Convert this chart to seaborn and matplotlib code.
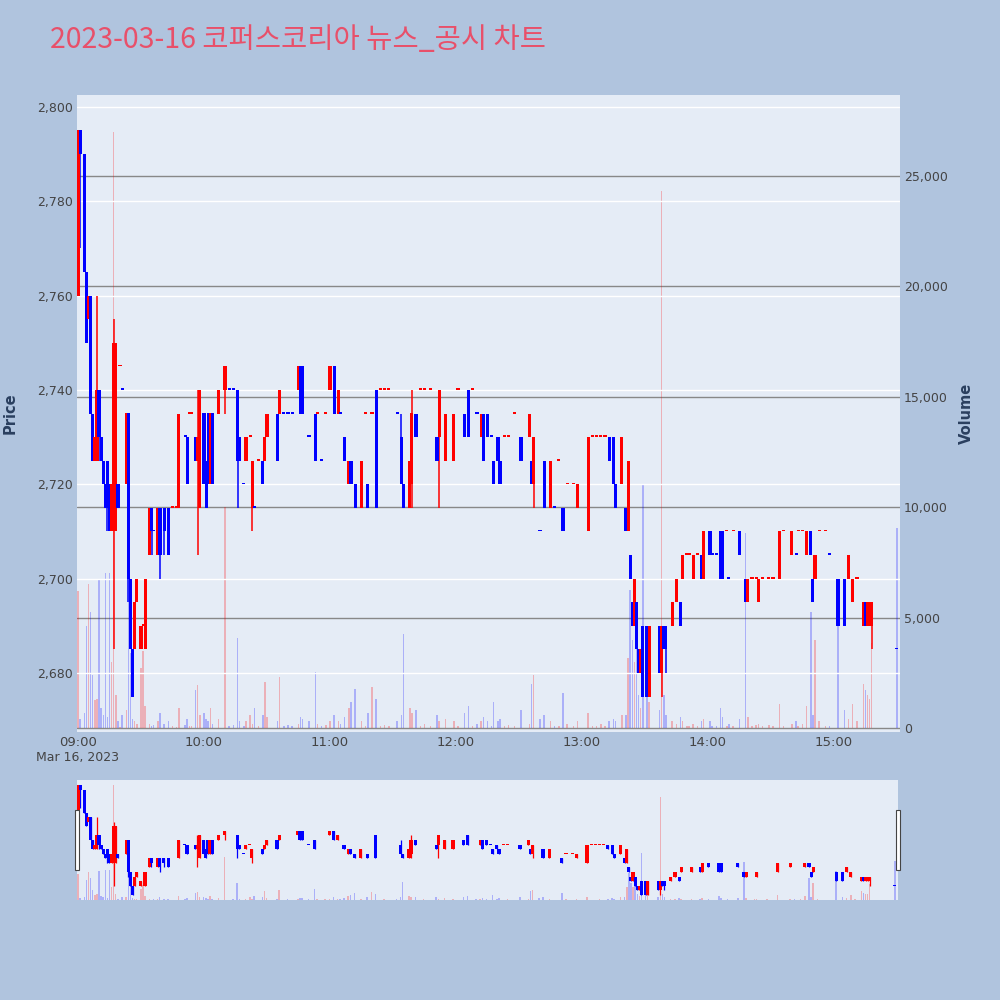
import matplotlib
matplotlib.use("Agg")
import matplotlib.pyplot as plt
import seaborn as sns
import pandas as pd
import numpy as np
from matplotlib.patches import Rectangle

# 1-minute candles, minutes counted from 09:00
minutes = [0, 1, 3, 4, 5, 6, 7, 8, 9, 10, 11, 12, 13, 14, 15, 16, 17, 18, 19, 20, 21, 23, 24, 25, 26, 27, 28, 30, 31, 32, 34, 35, 36, 38, 39, 41, 43, 45, 47, 48, 51, 52, 53, 54, 56, 57, 58,
           60, 61, 62, 63, 64, 67, 70, 72, 74, 76, 77, 79, 80, 82, 83, 84, 86, 88, 89, 90, 95, 96, 98, 100, 102, 105, 106, 107, 110, 113, 114, 116, 118,
           120, 122, 124, 125, 127, 129, 130, 132, 135, 137, 138, 140, 142, 144, 146, 148, 152, 154, 155, 158, 159, 161, 163, 165, 168, 171, 172, 175, 179,
           181, 184, 186, 188, 190, 192, 193, 195, 197, 198, 200, 201, 203, 205, 208, 211, 215, 216, 217, 220, 222, 225, 227, 229, 231, 233, 236, 238,
           243, 245, 247, 249, 251, 253, 255, 256, 259, 261, 262, 263, 264, 265, 266, 267, 268, 269, 271, 272, 277, 278, 279, 280, 283, 285, 287, 288, 290, 291, 293, 295, 297, 298,
           301, 302, 304, 306, 307, 309, 310, 312, 315, 318, 319, 321, 323, 324, 326, 329, 331, 334, 336, 340, 342, 343, 345, 347, 349, 350, 351, 353, 356, 358,
           362, 365, 367, 369, 371, 374, 375, 376, 377, 378, 390]

opens = [2760, 2795, 2790, 2765, 2755, 2760, 2735, 2725, 2725, 2740, 2730, 2725, 2720, 2725, 2720, 2710, 2710, 2710, 2720, 2745, 2740, 2720, 2735, 2700, 2685, 2685, 2695, 2685, 2690, 2685, 2705, 2715, 2710, 2705, 2715, 2715, 2715, 2715, 2715, 2715, 2730, 2730, 2735, 2735, 2730, 2725, 2715,
         2735, 2725, 2735, 2720, 2735, 2735, 2740, 2740, 2740, 2740, 2730, 2720, 2725, 2730, 2715, 2715, 2725, 2725, 2725, 2730, 2735, 2735, 2735, 2735, 2735, 2740, 2745, 2745, 2730, 2735, 2735, 2725, 2735,
         2740, 2745, 2735, 2735, 2730, 2720, 2725, 2720, 2715, 2735, 2720, 2735, 2740, 2740, 2740, 2740, 2735, 2730, 2720, 2715, 2720, 2735, 2740, 2740, 2740, 2730, 2730, 2725, 2725,
         2740, 2735, 2740, 2740, 2735, 2730, 2735, 2735, 2730, 2725, 2730, 2725, 2730, 2730, 2735, 2730, 2730, 2725, 2720, 2710, 2725, 2715, 2715, 2725, 2715, 2720, 2720, 2715,
         2710, 2730, 2730, 2730, 2730, 2730, 2730, 2720, 2720, 2715, 2710, 2705, 2695, 2690, 2695, 2685, 2680, 2690, 2690, 2675, 2690, 2680, 2690, 2690, 2690, 2695, 2695, 2700, 2705, 2705, 2700, 2705, 2705, 2700,
         2710, 2705, 2705, 2710, 2710, 2710, 2700, 2710, 2710, 2700, 2695, 2700, 2700, 2695, 2700, 2700, 2700, 2700, 2710, 2705, 2705, 2710, 2710, 2705, 2710, 2700, 2700, 2710, 2710, 2705,
         2700, 2700, 2700, 2695, 2700, 2690, 2695, 2690, 2690, 2690, 2685]

highs = [2795, 2795, 2790, 2765, 2760, 2760, 2735, 2730, 2760, 2740, 2730, 2725, 2720, 2725, 2720, 2720, 2755, 2750, 2720, 2745, 2740, 2735, 2735, 2700, 2685, 2695, 2700, 2690, 2690, 2700, 2715, 2715, 2710, 2715, 2715, 2715, 2715, 2715, 2715, 2735, 2730, 2730, 2735, 2735, 2730, 2740, 2740,
         2735, 2725, 2735, 2735, 2735, 2740, 2745, 2740, 2740, 2740, 2730, 2720, 2730, 2730, 2725, 2715, 2725, 2725, 2730, 2735, 2735, 2740, 2735, 2735, 2735, 2745, 2745, 2745, 2730, 2735, 2735, 2725, 2735,
         2745, 2745, 2740, 2735, 2730, 2725, 2725, 2720, 2725, 2735, 2720, 2735, 2740, 2740, 2740, 2740, 2735, 2735, 2720, 2725, 2740, 2735, 2740, 2740, 2740, 2730, 2740, 2735, 2735,
         2740, 2735, 2740, 2740, 2735, 2735, 2735, 2735, 2730, 2725, 2730, 2725, 2730, 2730, 2735, 2730, 2735, 2725, 2730, 2710, 2725, 2725, 2715, 2725, 2715, 2720, 2720, 2720,
         2730, 2730, 2730, 2730, 2730, 2730, 2730, 2720, 2730, 2715, 2725, 2705, 2695, 2700, 2695, 2685, 2685, 2690, 2690, 2690, 2690, 2690, 2690, 2690, 2695, 2700, 2695, 2705, 2705, 2705, 2705, 2705, 2705, 2710,
         2710, 2705, 2705, 2710, 2710, 2710, 2700, 2710, 2710, 2700, 2700, 2700, 2700, 2700, 2700, 2700, 2700, 2710, 2710, 2710, 2705, 2710, 2710, 2710, 2710, 2700, 2705, 2710, 2710, 2705,
         2700, 2700, 2705, 2700, 2700, 2695, 2695, 2695, 2695, 2695, 2685]

lows = [2760, 2770, 2765, 2750, 2755, 2735, 2725, 2725, 2725, 2725, 2725, 2720, 2715, 2710, 2710, 2710, 2685, 2710, 2715, 2745, 2740, 2720, 2695, 2685, 2675, 2685, 2695, 2685, 2690, 2685, 2705, 2705, 2710, 2705, 2700, 2705, 2705, 2715, 2715, 2715, 2730, 2720, 2735, 2735, 2725, 2705, 2715,
        2720, 2715, 2720, 2720, 2720, 2735, 2735, 2740, 2740, 2715, 2725, 2720, 2725, 2730, 2710, 2715, 2725, 2720, 2725, 2730, 2725, 2735, 2735, 2735, 2735, 2740, 2735, 2735, 2730, 2725, 2735, 2725, 2735,
        2740, 2735, 2735, 2735, 2725, 2720, 2720, 2715, 2715, 2735, 2715, 2735, 2715, 2740, 2740, 2740, 2735, 2720, 2715, 2715, 2715, 2730, 2740, 2740, 2740, 2725, 2715, 2725, 2725,
        2740, 2730, 2730, 2740, 2735, 2730, 2725, 2730, 2730, 2720, 2725, 2720, 2730, 2730, 2735, 2725, 2730, 2720, 2715, 2710, 2715, 2715, 2715, 2725, 2710, 2720, 2720, 2715,
        2710, 2730, 2730, 2730, 2730, 2725, 2720, 2715, 2720, 2710, 2710, 2700, 2690, 2690, 2685, 2680, 2680, 2675, 2675, 2675, 2680, 2675, 2685, 2680, 2690, 2695, 2690, 2700, 2705, 2705, 2700, 2705, 2700, 2700,
        2705, 2705, 2705, 2700, 2700, 2710, 2700, 2710, 2705, 2695, 2695, 2700, 2700, 2695, 2700, 2700, 2700, 2700, 2710, 2705, 2705, 2710, 2710, 2705, 2705, 2695, 2700, 2710, 2710, 2705,
        2690, 2690, 2700, 2695, 2700, 2690, 2690, 2690, 2690, 2685, 2685]

closes = [2795, 2790, 2765, 2750, 2760, 2735, 2725, 2730, 2740, 2730, 2725, 2720, 2715, 2715, 2710, 2720, 2750, 2750, 2715, 2745, 2740, 2735, 2700, 2685, 2675, 2695, 2700, 2690, 2690, 2700, 2715, 2710, 2710, 2715, 2705, 2710, 2705, 2715, 2715, 2735, 2730, 2720, 2735, 2735, 2725, 2730, 2740,
          2720, 2715, 2720, 2735, 2720, 2740, 2745, 2740, 2740, 2725, 2725, 2720, 2730, 2730, 2725, 2715, 2725, 2720, 2730, 2735, 2725, 2740, 2735, 2735, 2735, 2745, 2735, 2735, 2730, 2725, 2735, 2725, 2735,
          2745, 2735, 2740, 2735, 2725, 2725, 2720, 2715, 2725, 2735, 2715, 2735, 2715, 2740, 2740, 2740, 2735, 2720, 2715, 2725, 2735, 2730, 2740, 2740, 2740, 2725, 2740, 2735, 2735,
          2740, 2730, 2730, 2740, 2735, 2735, 2725, 2730, 2730, 2720, 2725, 2720, 2730, 2730, 2735, 2725, 2735, 2720, 2730, 2710, 2715, 2725, 2715, 2725, 2710, 2720, 2720, 2720,
          2730, 2730, 2730, 2730, 2730, 2725, 2720, 2715, 2730, 2710, 2725, 2700, 2690, 2700, 2685, 2680, 2685, 2675, 2675, 2690, 2680, 2690, 2685, 2685, 2695, 2700, 2690, 2705, 2705, 2705, 2705, 2705, 2700, 2710,
          2705, 2705, 2705, 2700, 2700, 2710, 2700, 2710, 2705, 2695, 2700, 2700, 2700, 2700, 2700, 2700, 2700, 2710, 2710, 2710, 2705, 2710, 2710, 2710, 2705, 2695, 2705, 2710, 2710, 2705,
          2690, 2690, 2705, 2700, 2700, 2695, 2690, 2695, 2695, 2695, 2685]

volumes = [6200, 400, 700, 4600, 6500, 5250, 2400, 1270, 1300, 6700, 900, 600, 7000, 500, 7000, 3000, 27000, 1500, 300, 50, 600, 800, 11800, 3400, 400, 300, 200, 2700, 3500, 1000, 200, 100, 150, 300, 700, 200, 300, 100, 50, 900, 150, 400, 100, 100, 1700, 1950, 600,
           700, 400, 300, 900, 200, 400, 10000, 100, 150, 4080, 300, 100, 300, 600, 200, 900, 100, 600, 2100, 500, 300, 2300, 100, 150, 100, 200, 500, 400, 300, 2550, 200, 100, 150,
           300, 600, 300, 200, 500, 900, 1200, 1760, 300, 100, 700, 1850, 1300, 100, 150, 100, 300, 600, 4250, 900, 700, 800, 100, 200, 100, 600, 300, 400, 300,
           100, 700, 1000, 100, 200, 300, 500, 300, 100, 1200, 300, 400, 100, 150, 100, 800, 200, 2000, 2400, 400, 600, 300, 100, 100, 1600, 200, 100, 300,
           700, 100, 100, 200, 100, 300, 400, 300, 600, 600, 3150, 6250, 4000, 3000, 3800, 1500, 900, 11000, 2000, 1200, 800, 24300, 1500, 600, 300, 200, 500, 300, 100, 100, 200, 100, 300, 400,
           300, 100, 100, 900, 500, 100, 200, 100, 400, 8830, 500, 100, 150, 200, 100, 150, 100, 1100, 100, 200, 300, 100, 200, 1000, 5250, 600, 4000, 300, 100, 100,
           6700, 800, 400, 1100, 300, 2000, 1700, 1500, 1300, 3850, 9060]

price_ticks = [2680, 2700, 2720, 2740, 2760, 2780, 2800]
volume_ticks = [0, 5000, 10000, 15000, 20000, 25000]
time_ticks = ['09:00', '10:00', '11:00', '12:00', '13:00', '14:00', '15:00']
title = '2023-03-16 코퍼스코리아 뉴스_공시 차트'

assert len(minutes) == len(opens) == len(highs) == len(lows) == len(closes) == len(volumes)

df = pd.DataFrame({'minute': minutes, 'open': opens, 'high': highs,
                   'low': lows, 'close': closes, 'volume': volumes})

# direction like plotly: flat candles follow the previous close
up = []
prev_c, prev_up = None, True
for o, c in zip(df['open'], df['close']):
    if c > o:
        d = True
    elif c < o:
        d = False
    elif prev_c is None or c > prev_c:
        d = True
    elif c < prev_c:
        d = False
    else:
        d = prev_up
    up.append(d)
    prev_c, prev_up = c, d
df['up'] = up
df['color'] = np.where(df['up'], '#FF0000', '#0000FF')
df['body_lo'] = df[['open', 'close']].min(axis=1)
df['body_h'] = (df['open'] - df['close']).abs().clip(lower=0.35)

BG = '#B0C4DE'
TICK = '#444444'
sns.set_theme(style='darkgrid', rc={'axes.facecolor': '#E5ECF6', 'grid.color': 'white',
                                    'figure.facecolor': BG})
plt.rcParams['font.family'] = ['DejaVu Sans']

fig = plt.figure(figsize=(10, 10), dpi=100)
fig.patch.set_facecolor(BG)


def draw(ax_v, ax_p, body_w, wick_lw, vol_w):
    ax_v.bar(df['minute'], df['volume'], width=vol_w, color=df['color'], alpha=0.25, linewidth=0)
    ax_p.vlines(df['minute'], df['low'], df['high'], colors=df['color'], linewidth=wick_lw, zorder=3)
    ax_p.bar(df['minute'], df['body_h'], bottom=df['body_lo'], width=body_w,
             color=df['color'], linewidth=0, zorder=4)


# main chart: volume axis underneath, price axis on top
axv = fig.add_axes([0.077, 0.268, 0.823, 0.637])
ax = axv.twinx()
axv.set_zorder(0)
ax.set_zorder(1)
ax.patch.set_visible(False)

draw(axv, ax, 1.5, 1.1, 0.7)

xlim = (-0.5, 391.5)
axv.set_xlim(*xlim)
ax.set_ylim(2667.5, 2802.5)
axv.set_ylim(-181, 28670)

# volume axis on the right with grey lines, price axis on the left with white lines
axv.yaxis.tick_right()
axv.set_yticks(volume_ticks)
axv.set_yticklabels([f'{v:,}' for v in volume_ticks])
axv.grid(axis='y', color='#888888', linewidth=1.0)
axv.grid(axis='x', visible=False)
ax.yaxis.tick_left()
ax.set_yticks(price_ticks)
ax.set_yticklabels([f'{p:,}' for p in price_ticks])
ax.grid(axis='y', color='white', linewidth=1.0, zorder=0)
ax.grid(axis='x', visible=False)
ax.set_axisbelow(True)

tick_pos = [(int(t[:2]) - 9) * 60 + int(t[3:]) for t in time_ticks]
axv.set_xticks(tick_pos)
axv.set_xticklabels(time_ticks)

for a in (ax, axv):
    a.tick_params(length=0, labelsize=9, labelcolor=TICK, pad=3)
    for s in a.spines.values():
        s.set_visible(False)
axv.tick_params(axis='x', pad=3, labelsize=9.5)

fig.text(0.078, 0.242, 'Mar 16, 2023', ha='center', va='center', fontsize=9, color=TICK)
fig.text(0.010, 0.587, 'Price', rotation=90, ha='center', va='center', fontsize=10.5,
         color='#2a3f5f', fontweight='bold')
fig.text(0.966, 0.587, 'Volume', rotation=90, ha='center', va='center', fontsize=10.5,
         color='#2a3f5f', fontweight='bold')
fig.text(0.05, 0.96, title, ha='left', va='center', fontsize=20.5, color='#E8506A',
         family=['Noto Sans CJK KR', 'DejaVu Sans'])

# range slider
asv = fig.add_axes([0.077, 0.10, 0.821, 0.12])
asp = asv.twinx()
asv.set_zorder(0)
asp.set_zorder(1)
asp.patch.set_visible(False)
draw(asv, asp, 1.5, 0.9, 0.7)
asv.set_xlim(*xlim)
asp.set_ylim(2669.5, 2800.5)
asv.set_ylim(0, 28200)
for a in (asv, asp):
    a.set_xticks([])
    a.set_yticks([])
    a.grid(False)
    for s in a.spines.values():
        s.set_visible(False)

for x0 in (0.075, 0.896):
    fig.patches.append(Rectangle((x0, 0.130), 0.004, 0.060, transform=fig.transFigure,
                                 facecolor='white', edgecolor='#444444', linewidth=0.8))

fig.savefig('out.png', dpi=100, facecolor=BG)
